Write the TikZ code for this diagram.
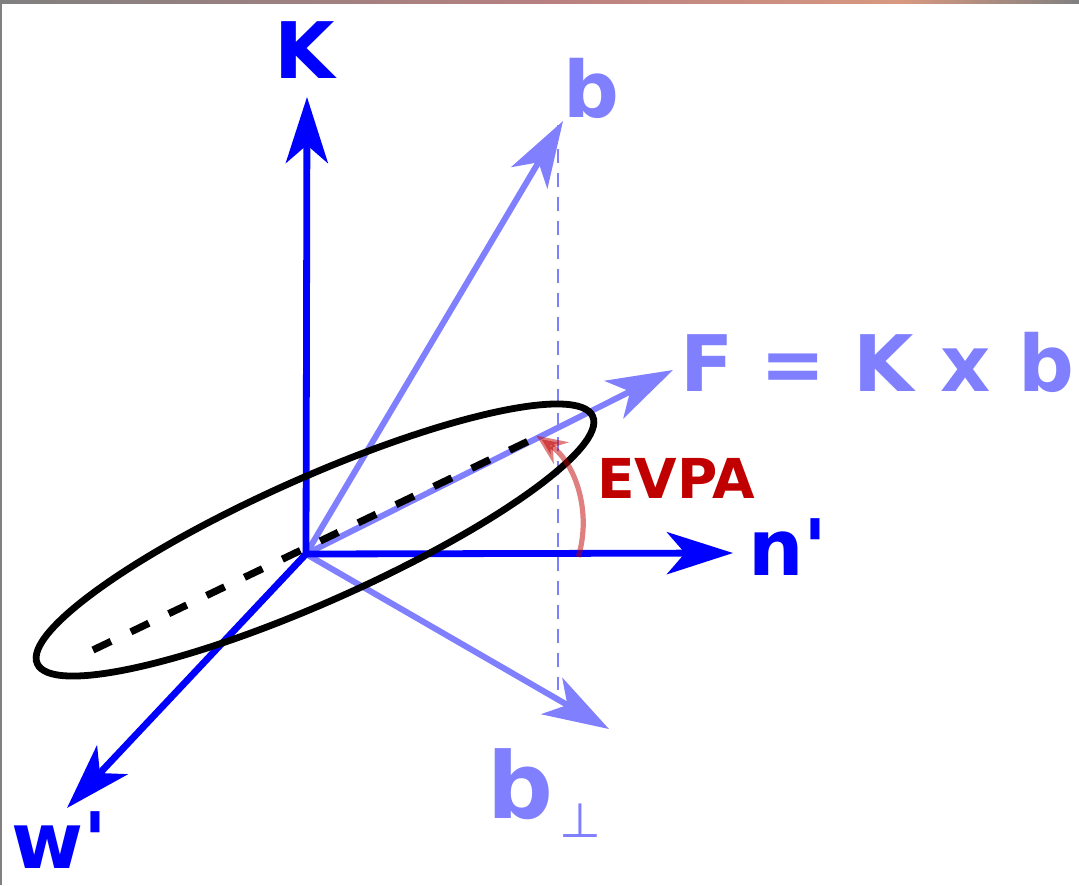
\documentclass[tikz,border=0pt]{standalone}
\usepackage{fontspec}
\newfontfamily\lblfont{DejaVu Sans}
\usetikzlibrary{arrows.meta}
\definecolor{axisblue}{HTML}{0000FF}
\definecolor{paleblue}{HTML}{8080FF}
\definecolor{evpared}{HTML}{C00000}
\definecolor{framegray}{HTML}{808080}
\definecolor{framepink}{HTML}{B88080}
\definecolor{frameorange}{HTML}{D89880}

\begin{document}
\begin{tikzpicture}[x=0.5pt, y=-0.5pt,
  >={Stealth[length=33pt, width=21pt, inset=9pt]},
  axis/.style={->, line width=3.4pt, axisblue},
  vec/.style={->, line width=3pt, paleblue},
  lbl/.style={inner sep=0pt, anchor=base west, font=\lblfont\fontsize{39}{39}\selectfont\bfseries}]
  \useasboundingbox (0,0) rectangle (1079,885);

  % Rámeček
  \shade[left color=framegray, right color=framepink] (0,0) rectangle (550,3);
  \shade[left color=framepink, right color=frameorange] (550,0) rectangle (900,3);
  \shade[left color=frameorange, right color=framegray] (900,0) rectangle (1079,3);
  \fill[framegray] (0,0) rectangle (2,885);

  % Body
  \coordinate (O) at (306,554);
  \coordinate (Ktip) at (307,97);
  \coordinate (btip) at (563,121);
  \coordinate (Ftip) at (673,370);
  \coordinate (ntip) at (733,553);
  \coordinate (wtip) at (67,808);
  \coordinate (bptip) at (609,729);
  \coordinate (projtop) at (558,125);
  \coordinate (projbot) at (558,690);
  \coordinate (polA) at (93,650);
  \coordinate (polB) at (537,437);

  % Průmět b
  \draw[paleblue, line width=0.75pt, dash pattern=on 7pt off 5pt] (projtop) -- (projbot);

  % Vektory b, F, b_perp
  \draw[vec] (O) -- (btip);
  \draw[vec] (O) -- (Ftip);
  \draw[vec] (O) -- (bptip);

  % Osy
  \draw[axis] (O) -- (Ktip);
  \draw[axis] (O) -- (ntip);
  \draw[axis] (O) -- (wtip);

  % Elipsa polarizace
  \draw[line width=3.4pt, rotate around={24:(315,540)}] (315,540) ellipse [x radius=304, y radius=62];
  \draw[line width=3.6pt, dash pattern=on 10pt off 11pt] (polA) -- (polB);

  % EVPA
  \draw[evpared, opacity=0.5, line width=2.6pt, -{Stealth[length=15pt, width=13pt, inset=5pt]}]
    (474,525) ++(17:109) arc[start angle=17, end angle=-55, radius=109];
  \node[lbl, text=evpared, font=\lblfont\fontsize{27.5}{27.5}\selectfont\bfseries] (evpa) at (597,498) {EVPA};

  % Popisky
  \node[lbl, text=axisblue] (Klbl) at (274,78) {K};
  \node[lbl, text=axisblue] (nlbl) at (748,575) {n'};
  \node[lbl, text=axisblue] (wlbl) at (11,868) {w'};
  \node[lbl, text=paleblue] (blbl) at (563,117) {b};
  \node[lbl, text=paleblue] (Flbl) at (680,391) {F = K x b};
  \node[lbl, text=paleblue, font=\lblfont\fontsize{46}{46}\selectfont\bfseries] (bplbl) at (487,818)
    {b\hspace{3pt}\raisebox{-9.5pt}{\fontsize{24}{24}\selectfont\mdseries ⊥}};
\end{tikzpicture}
\end{document}
